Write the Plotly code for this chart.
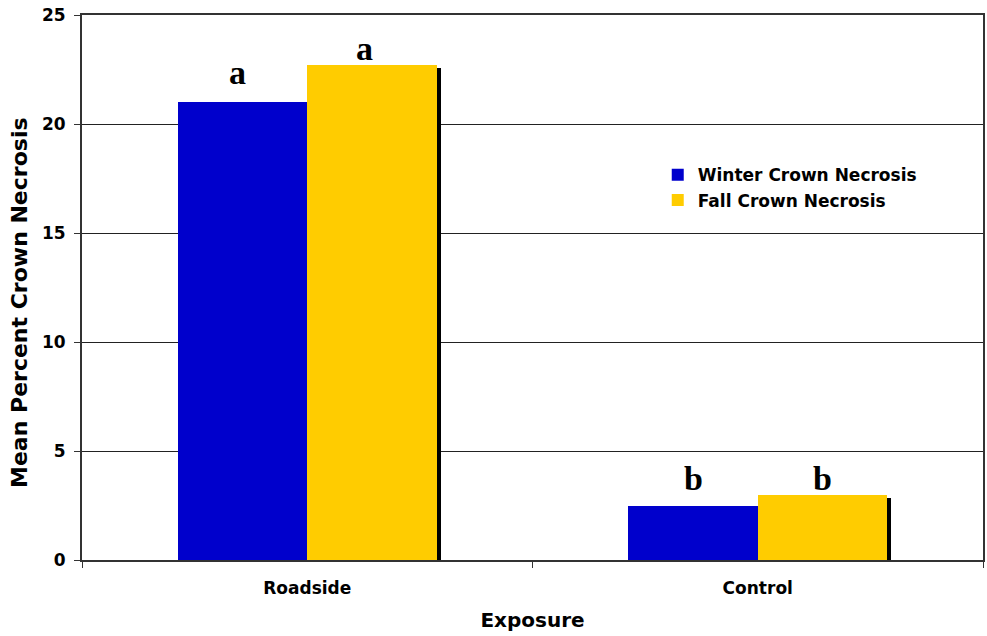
import plotly.graph_objects as go

categories = ["Roadside", "Control"]
winter = [21.0, 2.5]
fall = [22.7, 3.0]
winter_letters = ["a", "b"]
fall_letters = ["a", "b"]

BAR_W = 0.287
SHADOW_DX = 0.009
SHADOW_DY = 0.14
winter_letter_shift = [9, 7]
fall_letter_shift = [-4, -4]
winter_letter_xshift = [-5, 0]
fall_letter_xshift = [-7, 0]

fig = go.Figure()
fig.add_trace(go.Bar(
    x=categories, y=[v - SHADOW_DY for v in fall], width=BAR_W, offset=SHADOW_DX,
    marker=dict(color="black", line=dict(width=0)), showlegend=False, hoverinfo="skip"))
fig.add_trace(go.Bar(
    x=categories, y=winter, width=BAR_W, offset=-BAR_W, name="<b>Winter Crown Necrosis</b>",
    marker=dict(color="#0000CC", line=dict(width=0))))
fig.add_trace(go.Bar(
    x=categories, y=fall, width=BAR_W, offset=0, name="<b>Fall Crown Necrosis</b>",
    marker=dict(color="#FFCC00", line=dict(width=0))))

letter_font = dict(family="Liberation Serif", size=34, color="black")
for i, c in enumerate(categories):
    fig.add_annotation(x=i - BAR_W / 2, y=winter[i], xref="x", yref="y",
                       text="<b>%s</b>" % winter_letters[i], showarrow=False,
                       yanchor="bottom", yshift=winter_letter_shift[i],
                       xshift=winter_letter_xshift[i], font=letter_font)
    fig.add_annotation(x=i + BAR_W / 2, y=fall[i], xref="x", yref="y",
                       text="<b>%s</b>" % fall_letters[i], showarrow=False,
                       yanchor="bottom", yshift=fall_letter_shift[i],
                       xshift=fall_letter_xshift[i], font=letter_font)

font_fam = "DejaVu Sans"
fig.add_annotation(x=0, y=0.4716, xref="paper", yref="paper", xanchor="center", yanchor="middle",
                   xshift=-62, text="<b>Mean Percent Crown Necrosis</b>", textangle=-90,
                   showarrow=False, font=dict(family=font_fam, size=22, color="black"))

fig.update_layout(
    width=987, height=636, autosize=False,
    margin=dict(l=82, r=4, t=15, b=76),
    plot_bgcolor="white", paper_bgcolor="white",
    barmode="overlay", bargap=0,
    font=dict(family=font_fam, color="black"),
    showlegend=True,
    legend=dict(x=0.639, y=0.739, xanchor="left", yanchor="top",
                font=dict(family=font_fam, size=17, color="black"),
                bgcolor="rgba(0,0,0,0)", traceorder="normal"),
    xaxis=dict(
        type="category", range=[-0.5, 1.5], automargin=False,
        showline=True, linecolor="#333", linewidth=2, mirror=True,
        ticks="outside", tickson="boundaries", ticklen=6, tickcolor="#333", tickwidth=1,
        ticklabelstandoff=12,
        tickfont=dict(family=font_fam, size=17, color="black"),
        title=dict(text="<b>Exposure</b>", font=dict(family=font_fam, size=20, color="black"), standoff=16),
        showgrid=False),
    yaxis=dict(
        range=[0, 25], dtick=5, automargin=False,
        showline=True, linecolor="#333", linewidth=2, mirror=True,
        ticks="outside", ticklen=6, tickcolor="#333", tickwidth=1,
        ticklabelstandoff=5,
        tickfont=dict(family=font_fam, size=17, color="black"),
        showgrid=True, gridcolor="#222", gridwidth=1, zeroline=False),
)
fig.update_xaxes(tickprefix="<b>", ticksuffix="</b>")
fig.update_yaxes(tickprefix="<b>", ticksuffix="</b>")
fig.write_html("out.html", config={"responsive": False, "displayModeBar": False},
               post_script="document.body.style.margin='0';document.body.style.overflow='hidden';")
